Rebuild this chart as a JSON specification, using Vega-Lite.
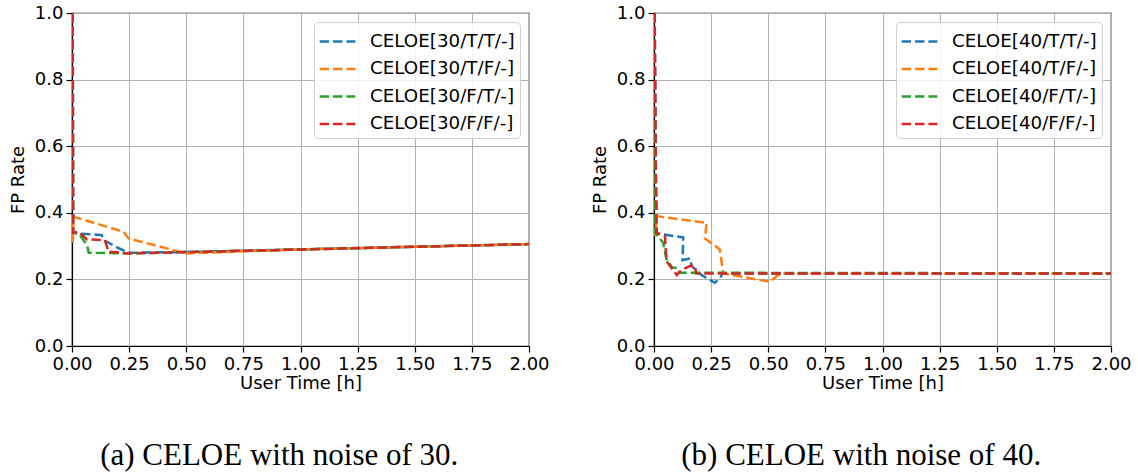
{
  "$schema": "https://vega.github.io/schema/vega-lite/v6.json",
  "background": "white",
  "padding": {"left": 8, "top": 3, "right": 5, "bottom": 0},
  "spacing": 40,
  "data": {"values": [
    {"noise": 30, "series": "CELOE[30/T/T/-]", "i": 0, "t": 0.003, "fp": 1.0},
    {"noise": 30, "series": "CELOE[30/T/T/-]", "i": 1, "t": 0.005, "fp": 0.34},
    {"noise": 30, "series": "CELOE[30/T/T/-]", "i": 2, "t": 0.026, "fp": 0.338},
    {"noise": 30, "series": "CELOE[30/T/T/-]", "i": 3, "t": 0.13, "fp": 0.333},
    {"noise": 30, "series": "CELOE[30/T/T/-]", "i": 4, "t": 0.138, "fp": 0.318},
    {"noise": 30, "series": "CELOE[30/T/T/-]", "i": 5, "t": 0.16, "fp": 0.31},
    {"noise": 30, "series": "CELOE[30/T/T/-]", "i": 6, "t": 0.2, "fp": 0.295},
    {"noise": 30, "series": "CELOE[30/T/T/-]", "i": 7, "t": 0.25, "fp": 0.28},
    {"noise": 30, "series": "CELOE[30/T/T/-]", "i": 8, "t": 0.5, "fp": 0.282},
    {"noise": 30, "series": "CELOE[30/T/T/-]", "i": 9, "t": 1.0, "fp": 0.29},
    {"noise": 30, "series": "CELOE[30/T/T/-]", "i": 10, "t": 1.5, "fp": 0.298},
    {"noise": 30, "series": "CELOE[30/T/T/-]", "i": 11, "t": 2.0, "fp": 0.306},

    {"noise": 30, "series": "CELOE[30/T/F/-]", "i": 0, "t": 0.003, "fp": 1.0},
    {"noise": 30, "series": "CELOE[30/T/F/-]", "i": 1, "t": 0.003, "fp": 0.31},
    {"noise": 30, "series": "CELOE[30/T/F/-]", "i": 2, "t": 0.007, "fp": 0.388},
    {"noise": 30, "series": "CELOE[30/T/F/-]", "i": 3, "t": 0.226, "fp": 0.343},
    {"noise": 30, "series": "CELOE[30/T/F/-]", "i": 4, "t": 0.247, "fp": 0.323},
    {"noise": 30, "series": "CELOE[30/T/F/-]", "i": 5, "t": 0.5, "fp": 0.278},
    {"noise": 30, "series": "CELOE[30/T/F/-]", "i": 6, "t": 1.0, "fp": 0.29},
    {"noise": 30, "series": "CELOE[30/T/F/-]", "i": 7, "t": 1.5, "fp": 0.298},
    {"noise": 30, "series": "CELOE[30/T/F/-]", "i": 8, "t": 2.0, "fp": 0.306},

    {"noise": 30, "series": "CELOE[30/F/T/-]", "i": 0, "t": 0.003, "fp": 1.0},
    {"noise": 30, "series": "CELOE[30/F/T/-]", "i": 1, "t": 0.005, "fp": 0.34},
    {"noise": 30, "series": "CELOE[30/F/T/-]", "i": 2, "t": 0.03, "fp": 0.338},
    {"noise": 30, "series": "CELOE[30/F/T/-]", "i": 3, "t": 0.066, "fp": 0.303},
    {"noise": 30, "series": "CELOE[30/F/T/-]", "i": 4, "t": 0.073, "fp": 0.28},
    {"noise": 30, "series": "CELOE[30/F/T/-]", "i": 5, "t": 0.25, "fp": 0.278},
    {"noise": 30, "series": "CELOE[30/F/T/-]", "i": 6, "t": 0.5, "fp": 0.282},
    {"noise": 30, "series": "CELOE[30/F/T/-]", "i": 7, "t": 1.0, "fp": 0.29},
    {"noise": 30, "series": "CELOE[30/F/T/-]", "i": 8, "t": 1.5, "fp": 0.298},
    {"noise": 30, "series": "CELOE[30/F/T/-]", "i": 9, "t": 2.0, "fp": 0.306},

    {"noise": 30, "series": "CELOE[30/F/F/-]", "i": 0, "t": 0.003, "fp": 1.0},
    {"noise": 30, "series": "CELOE[30/F/F/-]", "i": 1, "t": 0.005, "fp": 0.34},
    {"noise": 30, "series": "CELOE[30/F/F/-]", "i": 2, "t": 0.029, "fp": 0.343},
    {"noise": 30, "series": "CELOE[30/F/F/-]", "i": 3, "t": 0.066, "fp": 0.32},
    {"noise": 30, "series": "CELOE[30/F/F/-]", "i": 4, "t": 0.144, "fp": 0.318},
    {"noise": 30, "series": "CELOE[30/F/F/-]", "i": 5, "t": 0.16, "fp": 0.283},
    {"noise": 30, "series": "CELOE[30/F/F/-]", "i": 6, "t": 0.25, "fp": 0.278},
    {"noise": 30, "series": "CELOE[30/F/F/-]", "i": 7, "t": 0.5, "fp": 0.282},
    {"noise": 30, "series": "CELOE[30/F/F/-]", "i": 8, "t": 1.0, "fp": 0.29},
    {"noise": 30, "series": "CELOE[30/F/F/-]", "i": 9, "t": 1.5, "fp": 0.298},
    {"noise": 30, "series": "CELOE[30/F/F/-]", "i": 10, "t": 2.0, "fp": 0.306},

    {"noise": 40, "series": "CELOE[40/T/T/-]", "i": 0, "t": 0.003, "fp": 1.0},
    {"noise": 40, "series": "CELOE[40/T/T/-]", "i": 1, "t": 0.008, "fp": 0.51},
    {"noise": 40, "series": "CELOE[40/T/T/-]", "i": 2, "t": 0.012, "fp": 0.4},
    {"noise": 40, "series": "CELOE[40/T/T/-]", "i": 3, "t": 0.012, "fp": 0.338},
    {"noise": 40, "series": "CELOE[40/T/T/-]", "i": 4, "t": 0.128, "fp": 0.326},
    {"noise": 40, "series": "CELOE[40/T/T/-]", "i": 5, "t": 0.125, "fp": 0.258},
    {"noise": 40, "series": "CELOE[40/T/T/-]", "i": 6, "t": 0.157, "fp": 0.263},
    {"noise": 40, "series": "CELOE[40/T/T/-]", "i": 7, "t": 0.165, "fp": 0.24},
    {"noise": 40, "series": "CELOE[40/T/T/-]", "i": 8, "t": 0.208, "fp": 0.213},
    {"noise": 40, "series": "CELOE[40/T/T/-]", "i": 9, "t": 0.266, "fp": 0.19},
    {"noise": 40, "series": "CELOE[40/T/T/-]", "i": 10, "t": 0.288, "fp": 0.203},
    {"noise": 40, "series": "CELOE[40/T/T/-]", "i": 11, "t": 0.3, "fp": 0.218},
    {"noise": 40, "series": "CELOE[40/T/T/-]", "i": 12, "t": 2.0, "fp": 0.218},

    {"noise": 40, "series": "CELOE[40/T/F/-]", "i": 0, "t": 0.003, "fp": 1.0},
    {"noise": 40, "series": "CELOE[40/T/F/-]", "i": 1, "t": 0.005, "fp": 0.33},
    {"noise": 40, "series": "CELOE[40/T/F/-]", "i": 2, "t": 0.012, "fp": 0.39},
    {"noise": 40, "series": "CELOE[40/T/F/-]", "i": 3, "t": 0.23, "fp": 0.37},
    {"noise": 40, "series": "CELOE[40/T/F/-]", "i": 4, "t": 0.223, "fp": 0.323},
    {"noise": 40, "series": "CELOE[40/T/F/-]", "i": 5, "t": 0.288, "fp": 0.29},
    {"noise": 40, "series": "CELOE[40/T/F/-]", "i": 6, "t": 0.303, "fp": 0.218},
    {"noise": 40, "series": "CELOE[40/T/F/-]", "i": 7, "t": 0.507, "fp": 0.193},
    {"noise": 40, "series": "CELOE[40/T/F/-]", "i": 8, "t": 0.543, "fp": 0.213},
    {"noise": 40, "series": "CELOE[40/T/F/-]", "i": 9, "t": 0.56, "fp": 0.218},
    {"noise": 40, "series": "CELOE[40/T/F/-]", "i": 10, "t": 2.0, "fp": 0.218},

    {"noise": 40, "series": "CELOE[40/F/T/-]", "i": 0, "t": 0.003, "fp": 1.0},
    {"noise": 40, "series": "CELOE[40/F/T/-]", "i": 1, "t": 0.005, "fp": 0.34},
    {"noise": 40, "series": "CELOE[40/F/T/-]", "i": 2, "t": 0.04, "fp": 0.31},
    {"noise": 40, "series": "CELOE[40/F/T/-]", "i": 3, "t": 0.055, "fp": 0.26},
    {"noise": 40, "series": "CELOE[40/F/T/-]", "i": 4, "t": 0.065, "fp": 0.25},
    {"noise": 40, "series": "CELOE[40/F/T/-]", "i": 5, "t": 0.08, "fp": 0.235},
    {"noise": 40, "series": "CELOE[40/F/T/-]", "i": 6, "t": 0.1, "fp": 0.235},
    {"noise": 40, "series": "CELOE[40/F/T/-]", "i": 7, "t": 0.11, "fp": 0.22},
    {"noise": 40, "series": "CELOE[40/F/T/-]", "i": 8, "t": 2.0, "fp": 0.218},

    {"noise": 40, "series": "CELOE[40/F/F/-]", "i": 0, "t": 0.003, "fp": 1.0},
    {"noise": 40, "series": "CELOE[40/F/F/-]", "i": 1, "t": 0.01, "fp": 0.34},
    {"noise": 40, "series": "CELOE[40/F/F/-]", "i": 2, "t": 0.048, "fp": 0.33},
    {"noise": 40, "series": "CELOE[40/F/F/-]", "i": 3, "t": 0.05, "fp": 0.3},
    {"noise": 40, "series": "CELOE[40/F/F/-]", "i": 4, "t": 0.055, "fp": 0.255},
    {"noise": 40, "series": "CELOE[40/F/F/-]", "i": 5, "t": 0.07, "fp": 0.24},
    {"noise": 40, "series": "CELOE[40/F/F/-]", "i": 6, "t": 0.1, "fp": 0.213},
    {"noise": 40, "series": "CELOE[40/F/F/-]", "i": 7, "t": 0.12, "fp": 0.228},
    {"noise": 40, "series": "CELOE[40/F/F/-]", "i": 8, "t": 0.157, "fp": 0.24},
    {"noise": 40, "series": "CELOE[40/F/F/-]", "i": 9, "t": 0.179, "fp": 0.24},
    {"noise": 40, "series": "CELOE[40/F/F/-]", "i": 10, "t": 0.185, "fp": 0.218},
    {"noise": 40, "series": "CELOE[40/F/F/-]", "i": 11, "t": 2.0, "fp": 0.218}
  ]},
  "hconcat": [
    {
      "width": 457, "height": 333,
      "title": {"text": "(a) CELOE with noise of 30.", "orient": "bottom", "anchor": "middle", "frame": "bounds", "offset": 49, "font": "Liberation Serif", "fontSize": 31, "fontWeight": "normal", "color": "black"},
      "transform": [{"filter": "datum.noise == 30"}],
      "mark": {"type": "line", "strokeWidth": 2.5, "strokeDash": [9.4, 4], "clip": true},
      "encoding": {
        "x": {"field": "t", "type": "quantitative", "scale": {"domain": [0, 2], "nice": false}, "axis": {"title": "User Time [h]", "values": [0, 0.25, 0.5, 0.75, 1, 1.25, 1.5, 1.75, 2], "format": ".2f"}},
        "y": {"field": "fp", "type": "quantitative", "scale": {"domain": [0, 1], "nice": false}, "axis": {"title": "FP Rate", "values": [0, 0.2, 0.4, 0.6, 0.8, 1.0], "format": ".1f"}},
        "color": {"field": "series", "type": "nominal", "scale": {"domain": ["CELOE[30/T/T/-]", "CELOE[30/T/F/-]", "CELOE[30/F/T/-]", "CELOE[30/F/F/-]"], "range": ["#1f77b4", "#ff7f0e", "#2ca02c", "#d62728"]}, "legend": {"title": null}},
        "order": {"field": "i", "type": "quantitative"}
      }
    },
    {
      "width": 457, "height": 333,
      "title": {"text": "(b) CELOE with noise of 40.", "orient": "bottom", "anchor": "middle", "frame": "bounds", "offset": 49, "font": "Liberation Serif", "fontSize": 31, "fontWeight": "normal", "color": "black"},
      "transform": [{"filter": "datum.noise == 40"}],
      "mark": {"type": "line", "strokeWidth": 2.5, "strokeDash": [9.4, 4], "clip": true},
      "encoding": {
        "x": {"field": "t", "type": "quantitative", "scale": {"domain": [0, 2], "nice": false}, "axis": {"title": "User Time [h]", "values": [0, 0.25, 0.5, 0.75, 1, 1.25, 1.5, 1.75, 2], "format": ".2f"}},
        "y": {"field": "fp", "type": "quantitative", "scale": {"domain": [0, 1], "nice": false}, "axis": {"title": "FP Rate", "values": [0, 0.2, 0.4, 0.6, 0.8, 1.0], "format": ".1f"}},
        "color": {"field": "series", "type": "nominal", "scale": {"domain": ["CELOE[40/T/T/-]", "CELOE[40/T/F/-]", "CELOE[40/F/T/-]", "CELOE[40/F/F/-]"], "range": ["#1f77b4", "#ff7f0e", "#2ca02c", "#d62728"]}, "legend": {"title": null}},
        "order": {"field": "i", "type": "quantitative"}
      }
    }
  ],
  "resolve": {"scale": {"color": "independent"}, "legend": {"color": "independent"}},
  "config": {
    "font": "DejaVu Sans",
    "view": {"stroke": "black", "strokeWidth": 1.2},
    "axis": {
      "labelFont": "DejaVu Sans", "labelFontSize": 18, "labelColor": "black",
      "titleFont": "DejaVu Sans", "titleFontSize": 18, "titleFontWeight": "normal", "titleColor": "black",
      "domainColor": "black", "domainWidth": 1.2,
      "tickColor": "black", "tickSize": 6, "tickWidth": 1.2,
      "gridColor": "#b0b0b0", "gridWidth": 1,
      "labelPadding": 3, "labelFlush": false, "labelOverlap": false
    },
    "axisX": {"titlePadding": 1},
    "axisY": {"titlePadding": 7},
    "legend": {
      "orient": "top-right", "offset": 9,
      "padding": 5, "cornerRadius": 4,
      "strokeColor": "#d0d0d0", "fillColor": "rgba(255,255,255,0.85)",
      "labelFont": "DejaVu Sans", "labelFontSize": 18.3, "labelColor": "black",
      "labelOffset": 18, "rowPadding": 4.5,
      "symbolType": "M-1.35,0H1.35", "symbolSize": 700, "symbolOffset": 4, "symbolStrokeWidth": 2.5, "symbolDash": [9.4, 4], "symbolOpacity": 1
    }
  }
}
